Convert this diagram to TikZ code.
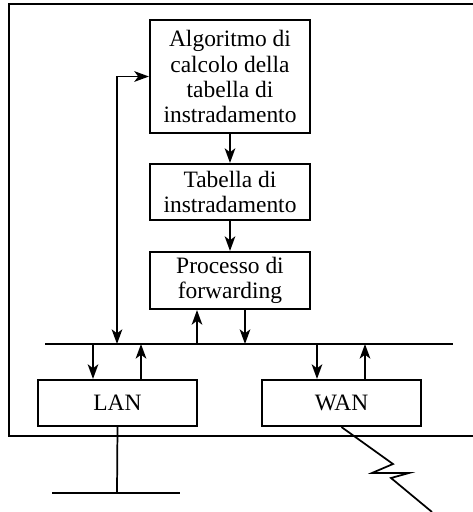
\documentclass[tikz,border=0pt]{standalone}
\usepackage{fontspec}
\setmainfont{Liberation Serif}
\usetikzlibrary{arrows.meta,calc}
\begin{document}
\begin{tikzpicture}[x=0.75pt,y=-0.75pt,
  box/.style={draw,line width=1.6pt,inner sep=0pt,minimum width=120pt,align=center,
    font=\fontsize{17.6}{18.8}\selectfont},
  arr/.style={line width=1.3pt,-{Stealth[length=11pt,width=8pt,inset=3pt]}},
  barr/.style={line width=1.3pt,{Stealth[length=11pt,width=8pt,inset=3pt]}-{Stealth[length=11pt,width=8pt,inset=3pt]}},
  ln/.style={line width=1.3pt}]
\useasboundingbox (0,0) rectangle (473,512);
% frame
\draw[ln] (473,4) -- (9,4) -- (9,436) -- (473,436);
% boxes
\node[box,minimum height=84.75pt] (alg) at (230,76.5) {Algoritmo di\\calcolo della\\tabella di\\instradamento};
\node[box,minimum height=42pt] (tab) at (230,192) {Tabella di\\instradamento};
\node[box,minimum height=42.75pt] (proc) at (230,280.5) {Processo di\\forwarding};
\node[box,minimum width=119.25pt,minimum height=34.5pt] (lan) at (117.5,403) {LAN};
\node[box,minimum width=119.25pt,minimum height=34.5pt] (wan) at (341.5,403) {WAN};
% bus
\coordinate (busL) at (45,344);
\coordinate (busR) at (453,344);
\draw[line width=1.5pt] (busL) -- (busR);
\coordinate (fb) at (117,344);
\coordinate (pu) at (197,344);
\coordinate (pd) at (245,344);
\coordinate (ld) at (93,344);
\coordinate (lu) at (141,344);
\coordinate (wd) at (317,344);
\coordinate (wu) at (365,344);
% arrows
\draw[arr] (alg) -- (tab);
\draw[arr] (tab) -- (proc);
\draw[barr] (fb) |- (alg.west);
\draw[arr] (pu) -- (pu |- proc.south);
\draw[arr] (pd |- proc.south) -- (pd);
\draw[arr] (ld) -- (ld |- lan.north);
\draw[arr] (lu |- lan.north) -- (lu);
\draw[arr] (wd) -- (wd |- wan.north);
\draw[arr] (wu |- wan.north) -- (wu);
% LAN cable
\coordinate (lg) at (117,493);
\draw[ln] (lan.south) -- (lg);
\draw[ln] (52,493) -- (180,493);
% WAN link
\coordinate (wend) at (432,512);
\draw[ln] (wan.south) -- (393,464) -- (372,473) -- (409,473) -- (391,478) -- (wend);
\end{tikzpicture}
\end{document}
